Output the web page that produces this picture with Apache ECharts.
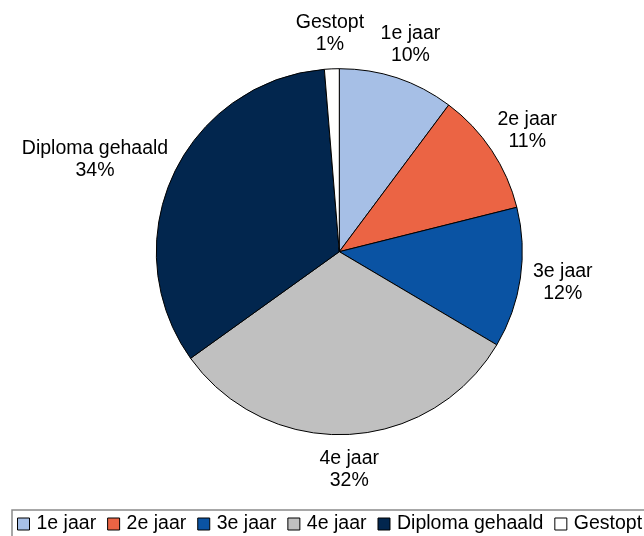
<!DOCTYPE html>
<html><head><meta charset="utf-8">
<script src="https://cdn.jsdelivr.net/npm/echarts@6/dist/echarts.min.js"></script>
<style>html,body{margin:0;padding:0;background:#fff}#c{width:644px;height:536px}</style>
</head><body><div id="c"></div>
<script>
const categories = ['1e jaar', '2e jaar', '3e jaar', '4e jaar', 'Diploma gehaald', 'Gestopt'];
const values = [10.2, 10.9, 12.4, 31.6, 33.6, 1.3];
const colors = ['#A6BFE6', '#EB6444', '#0A53A3', '#C0C0C0', '#02264E', '#FFFFFF'];

const FONT = '"Liberation Sans", Arial, Helvetica, sans-serif';
const chart = echarts.init(document.getElementById('c'), null, { renderer: 'canvas' });
const LABEL_GAP = 13;

function placeLabel(p) {
  const data = chart.getModel().getSeriesByIndex(0).getData();
  const L = data.getItemLayout(p.dataIndex);
  const mid = (L.startAngle + L.endAngle) / 2;
  const dx = Math.cos(mid), dy = Math.sin(mid);
  const w = p.labelRect.width, h = p.labelRect.height;
  const a = L.r + LABEL_GAP;
  return {
    x: L.cx + a * dx + dx * w / 2,
    y: L.cy + a * dy + dy * h / 2,
    align: 'center', verticalAlign: 'middle'
  };
}

chart.setOption({
  animation: false,
  backgroundColor: '#fff',
  legend: {
    show: true,
    left: 12, top: 510, width: 700,
    orient: 'horizontal',
    icon: 'rect',
    itemWidth: 12, itemHeight: 12, itemGap: 11,
    padding: [4, 8, 6, 5],
    borderColor: '#8a8a8a', borderWidth: 1.5,
    itemStyle: { borderColor: '#000', borderWidth: 1 },
    textStyle: { fontFamily: FONT, fontSize: 19.5, color: '#000', padding: [0, 0, 0, 2] },
    data: categories
  },
  series: [{
    type: 'pie',
    center: [339.3, 251.7],
    radius: [0, 183],
    startAngle: 90,
    clockwise: true,
    avoidLabelOverlap: false,
    itemStyle: { borderColor: '#000', borderWidth: 1 },
    label: {
      show: true,
      position: 'outside',
      fontFamily: FONT, fontSize: 19.5, lineHeight: 22, color: '#000', align: 'center',
      formatter: p => p.name + '\n' + Math.round(p.percent) + '%'
    },
    labelLine: { show: false },
    labelLayout: placeLabel,
    emphasis: { disabled: true },
    data: categories.map((n, i) => ({ name: n, value: values[i], itemStyle: { color: colors[i] } }))
  }]
});
</script></body></html>
